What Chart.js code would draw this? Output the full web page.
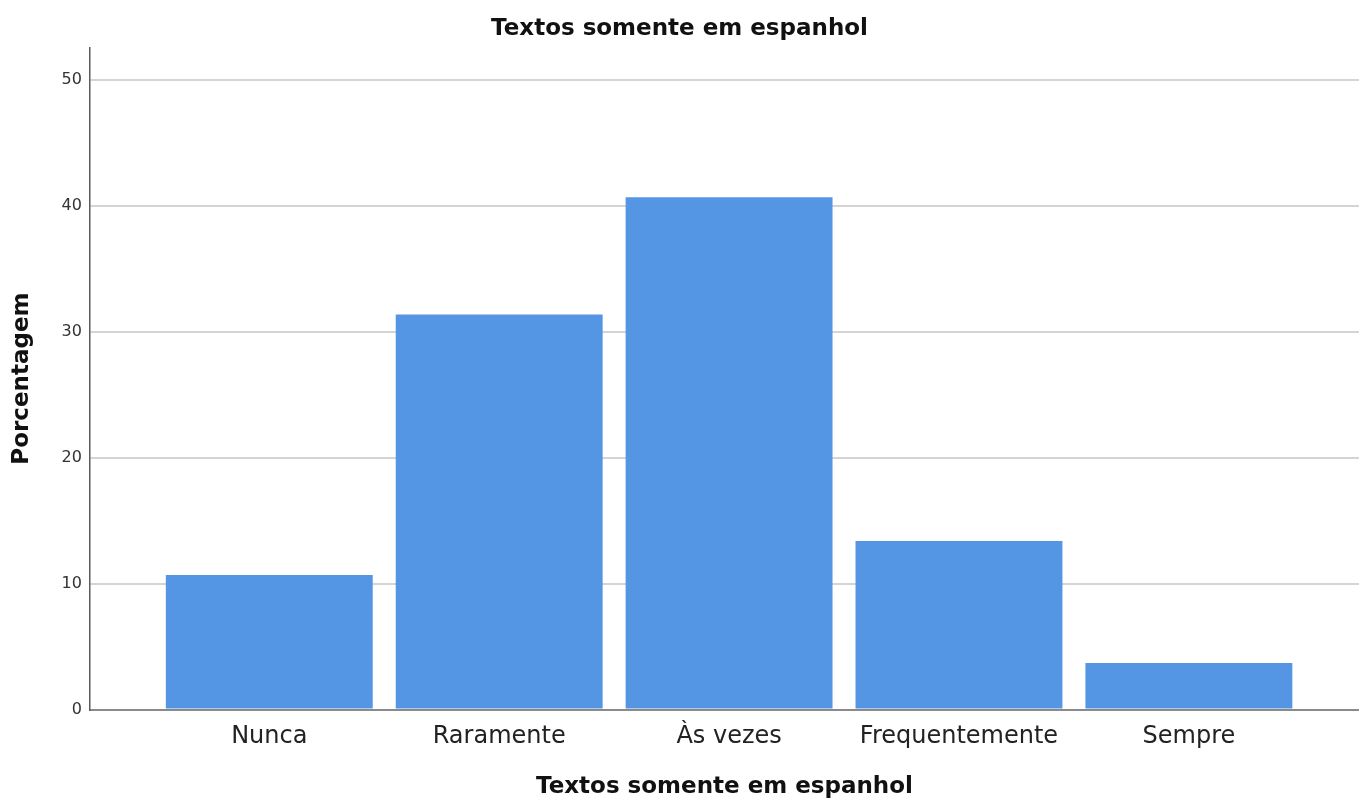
<!DOCTYPE html>
<html>
<head>
<meta charset="utf-8">
<script src="https://cdn.jsdelivr.net/npm/chart.js@4"></script>
<style>
  html, body { margin: 0; padding: 0; background: #fff; }
  #wrap { width: 1359px; height: 801px; }
</style>
</head>
<body>
<div id="wrap"><canvas id="barChart"></canvas></div>
<script>
// Data
const categories = ["Nunca", "Raramente", "Às vezes", "Frequentemente", "Sempre"];
const percentages = [10.7, 31.4, 40.7, 13.4, 3.7];
const yTicks = [0, 10, 20, 30, 40, 50];

const titleText = "Textos somente em espanhol";
const FONT = "'DejaVu Sans', Verdana, sans-serif";

const ctx = document.getElementById("barChart").getContext("2d");
new Chart(ctx, {
    type: "bar",
    data: {
        datasets: [{
            label: "Porcentagem",
            data: categories.map((c, i) => ({ x: i, y: percentages[i] })),
            backgroundColor: "#5596e4",
            borderWidth: 0,
            categoryPercentage: 1,
            barPercentage: 0.9
        }]
    },
    options: {
        responsive: true,
        maintainAspectRatio: false,
        animation: false,
        layout: { padding: 0 },
        plugins: {
            legend: { display: false },
            tooltip: { enabled: false },
            title: {
                display: true,
                text: titleText,
                color: "#111",
                font: { family: FONT, size: 23, weight: "bold" },
                padding: { top: 15, bottom: 5 }
            }
        },
        scales: {
            x: {
                type: "linear",
                offset: false,
                min: -0.78,
                max: 4.74,
                afterBuildTicks: (scale) => {
                    scale.ticks = categories.map((c, i) => ({ value: i }));
                },
                ticks: {
                    autoSkip: false,
                    maxRotation: 0,
                    padding: 13,
                    color: "#222",
                    font: { family: FONT, size: 24 },
                    callback: (v) => categories[v]
                },
                grid: { display: false, drawTicks: false, offset: false },
                border: { display: true, color: "#8a8a8a", width: 2 },
                title: {
                    display: true,
                    text: titleText,
                    color: "#111",
                    font: { family: FONT, size: 23, weight: "bold" },
                    padding: { top: 9, bottom: 0 }
                }
            },
            y: {
                min: 0,
                max: 52.6,
                afterBuildTicks: (scale) => {
                    scale.ticks = yTicks.map(v => ({ value: v }));
                },
                ticks: {
                    padding: 8,
                    color: "#333",
                    font: { family: FONT, size: 16 }
                },
                grid: { color: "#d4d4d4", lineWidth: 2, drawTicks: false },
                border: { display: true, color: "#5a5a5a", width: 1.5 },
                title: {
                    display: true,
                    text: "Porcentagem",
                    color: "#111",
                    font: { family: FONT, size: 23, weight: "bold" },
                    padding: { top: 8, bottom: 18 }
                }
            }
        }
    }
});
</script>
</body>
</html>
